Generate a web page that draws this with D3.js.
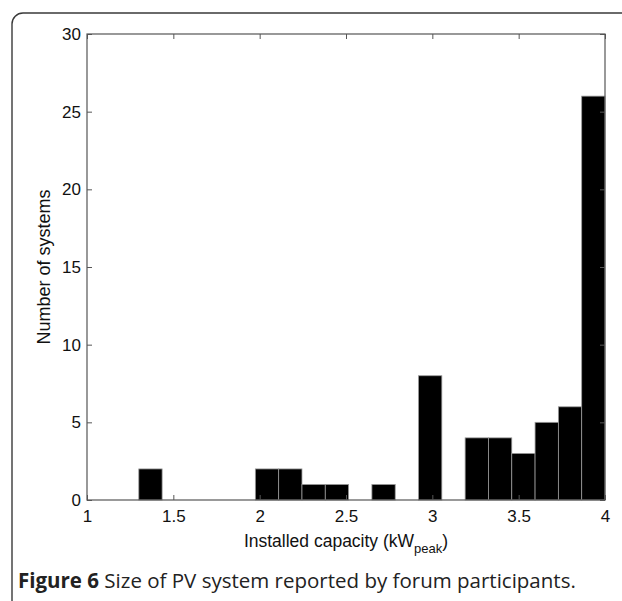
<!DOCTYPE html>
<html>
<head>
<meta charset="utf-8">
<script src="https://cdn.jsdelivr.net/npm/d3@7"></script>
<style>
  body { margin: 0; background: #fff; }
  svg { display: block; }
  .tick text { font-family: "Liberation Sans", Arial, sans-serif; font-size: 17px; fill: #111; }
  .tick line { stroke: #555; }
  .domain { display: none; }
</style>
</head>
<body>
<script>
// histogram bins (kW peak) and counts
const binEdges = [1.3, 1.435, 1.57, 1.705, 1.84, 1.975, 2.11, 2.245, 2.38, 2.515, 2.65,
                  2.785, 2.92, 3.055, 3.19, 3.325, 3.46, 3.595, 3.73, 3.865, 4.0];
const counts = [2, 0, 0, 0, 0, 2, 2, 1, 1, 0, 1, 0, 8, 0, 4, 4, 3, 5, 6, 26];
const xTicks = [1, 1.5, 2, 2.5, 3, 3.5, 4];
const yTicks = [0, 5, 10, 15, 20, 25, 30];

const width = 622;
const height = 601;
const plot = { left: 87, right: 605, top: 34, bottom: 500 };

const svg = d3.select('body').append('svg')
  .attr('width', width)
  .attr('height', height);

// rounded frame around the figure (runs off the right and bottom edge)
svg.append('rect')
  .attr('x', 12).attr('y', 13)
  .attr('width', 640).attr('height', 598)
  .attr('rx', 11)
  .attr('fill', 'none')
  .attr('stroke', '#3a3a3a')
  .attr('stroke-width', 1.4);

const x = d3.scaleLinear().domain([1, 4]).range([plot.left, plot.right]);
const y = d3.scaleLinear().domain([0, 30]).range([plot.bottom, plot.top]);

const bins = counts.map((c, i) => ({ x0: binEdges[i], x1: binEdges[i + 1], n: c }));

// bars
svg.append('g').attr('class', 'bars')
  .selectAll('rect')
  .data(bins.filter(d => d.n > 0))
  .enter()
    .append('rect')
    .attr('x', d => x(d.x0))
    .attr('y', d => y(d.n))
    .attr('width', d => x(d.x1) - x(d.x0))
    .attr('height', d => y(0) - y(d.n))
    .attr('fill', '#000')
    .attr('stroke', '#9a9a9a')
    .attr('stroke-width', 0.8);

// axes, ticks pointing inwards like matlab
svg.append('g')
  .attr('transform', `translate(0,${plot.bottom})`)
  .call(d3.axisBottom(x).tickValues(xTicks).tickFormat(d => d).tickSize(-5).tickPadding(10));
svg.append('g')
  .attr('transform', `translate(0,${plot.top})`)
  .call(d3.axisTop(x).tickValues(xTicks).tickFormat('').tickSize(-5));
svg.append('g')
  .attr('transform', `translate(${plot.left},0)`)
  .call(d3.axisLeft(y).tickValues(yTicks).tickFormat(d => d).tickSize(-5).tickPadding(6));
svg.append('g')
  .attr('transform', `translate(${plot.right},0)`)
  .call(d3.axisRight(y).tickValues(yTicks).tickFormat('').tickSize(-5));

// box
svg.append('rect')
  .attr('x', plot.left).attr('y', plot.top)
  .attr('width', plot.right - plot.left)
  .attr('height', plot.bottom - plot.top)
  .attr('fill', 'none')
  .attr('stroke', '#555')
  .attr('stroke-width', 1.2);

// axis titles
const xTitle = svg.append('text')
  .attr('x', (plot.left + plot.right) / 2)
  .attr('y', 547)
  .attr('text-anchor', 'middle')
  .style('font-family', '"Liberation Sans", Arial, sans-serif')
  .style('font-size', '17.5px')
  .attr('fill', '#111');
xTitle.append('tspan').text('Installed capacity (kW');
xTitle.append('tspan').attr('dy', 6).style('font-size', '13px').text('peak');
xTitle.append('tspan').attr('dy', -6).text(')');

svg.append('text')
  .attr('transform', `translate(50,${(plot.top + plot.bottom) / 2}) rotate(-90)`)
  .attr('text-anchor', 'middle')
  .style('font-family', '"Liberation Sans", Arial, sans-serif')
  .style('font-size', '18px')
  .attr('fill', '#111')
  .text('Number of systems');

// caption
const cap = svg.append('text')
  .attr('x', 18)
  .attr('y', 588)
  .style('font-family', '"Open Sans", "Noto Sans", sans-serif')
  .style('font-size', '20.5px')
  .attr('fill', '#222');
cap.append('tspan').style('font-weight', 'bold').text('Figure 6');
cap.append('tspan').text(' Size of PV system reported by forum participants.');
</script>
</body>
</html>
